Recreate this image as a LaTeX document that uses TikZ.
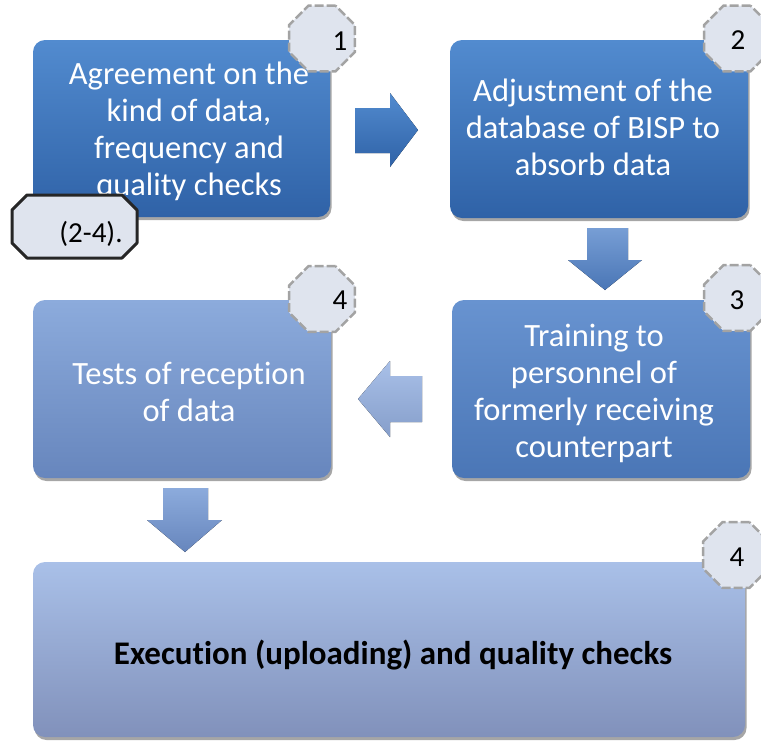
\documentclass[tikz,border=0pt]{standalone}
\usepackage{fontspec}
\setmainfont{Carlito}[Ligatures=NoCommon]
\usetikzlibrary{shapes.geometric,shadows}
\definecolor{bAtop}{HTML}{528BCF}
\definecolor{bAbot}{HTML}{2F62A7}
\definecolor{bCtop}{HTML}{6893D0}
\definecolor{bCbot}{HTML}{4A76B6}
\definecolor{bDtop}{HTML}{8CABDC}
\definecolor{bDbot}{HTML}{6786BD}
\definecolor{bEtop}{HTML}{A9C0E8}
\definecolor{bEbot}{HTML}{8191BB}
\definecolor{badgefill}{HTML}{DFE4EE}
\definecolor{badgeline}{HTML}{A3A3A3}
\begin{document}
\begin{tikzpicture}[x=1pt,y=-1pt,
  box/.style={rectangle, rounded corners=12pt, inner sep=0pt,
    drop shadow={shadow xshift=1.5pt, shadow yshift=-3pt, opacity=0.35, fill=black}},
  boxtext/.style={text=white, align=center, inner sep=0pt, font=\fontsize{32.5}{37}\selectfont},
  badge/.style={regular polygon, regular polygon sides=8, minimum size=71pt, inner sep=0pt,
    fill=badgefill, draw=badgeline, line width=2.5pt, dash pattern=on 9pt off 3pt},
  badgenum/.style={font=\fontsize{29}{34}\selectfont, text=black, inner sep=0pt},
  tagline/.style={fill=badgefill, draw=black!85, line width=3pt, line join=round},
  blockarrow/.style={draw=none}
]
\useasboundingbox (0,0) rectangle (761,740);

% boxes
\node[box, minimum width=297pt, minimum height=177pt, top color=bAtop, bottom color=bAbot] (b1) at (181.5,128.5) {};
\node[box, minimum width=298pt, minimum height=178pt, top color=bAtop, bottom color=bAbot] (b2) at (599,129) {};
\node[box, minimum width=298pt, minimum height=178pt, top color=bCtop, bottom color=bCbot] (b3) at (601,389) {};
\node[box, minimum width=298pt, minimum height=178pt, top color=bDtop, bottom color=bDbot] (b4) at (182,389) {};
\node[box, minimum width=712pt, minimum height=175pt, top color=bEtop, bottom color=bEbot] (b5) at (389,649.5) {};

% texts
\node[boxtext] (t1) at (189,131) {Agreement on the\\kind of data,\\frequency and\\quality checks};
\node[boxtext] (t2) at (593,127) {Adjustment of the\\database of BISP to\\absorb data};
\node[boxtext] (t3) at (594,393) {Training to\\personnel of\\formerly receiving\\counterpart};
\node[boxtext] (t4) at (189,392) {Tests of reception\\of data};
\node[font=\fontsize{33}{38}\selectfont\bfseries, text=black, inner sep=0pt] (t5) at (393,655) {Execution (uploading) and quality checks};

% block arrows
\fill[blockarrow, top color=bAtop, bottom color=bAbot]
  (355,108) -- (390,108) -- (390,93) -- (418,130) -- (390,167) -- (390,153) -- (355,153) -- cycle;
\fill[blockarrow, top color=bCtop!90!white, bottom color=bCbot]
  (587,228) -- (628,228) -- (628,260) -- (642,260) -- (605,290) -- (568,260) -- (587,260) -- cycle;
\fill[blockarrow, top color=bEtop, bottom color=bDbot!80!white]
  (422,376) -- (390,376) -- (390,361) -- (358,399) -- (390,437) -- (390,422) -- (422,422) -- cycle;
\fill[blockarrow, top color=bDtop, bottom color=bDbot]
  (163,488) -- (208,488) -- (208,520) -- (222,520) -- (185,552) -- (147,520) -- (163,520) -- cycle;

% badges
\node[badge] (g1) at (322,38.5) {};
\node[badgenum] (n1) at (340,41) {1};
\node[badge] (g2) at (737,38.5) {};
\node[badgenum] (n2) at (738,40) {2};
\node[badge] (g3) at (737,298) {};
\node[badgenum] (n3) at (737,300) {3};
\node[badge] (g4) at (322,299) {};
\node[badgenum] (n4) at (340,300) {4};
\node[badge] (g5) at (736,555) {};
\node[badgenum] (n5) at (737,557) {4};

% (2-4). tag
\draw[tagline] (27,195) -- (122,195) -- (137,210) -- (137,243) -- (122,258)
  -- (27,258) -- (12,243) -- (12,210) -- cycle;
\node[badgenum] (tagtext) at (91,234) {(2-4).};
\end{tikzpicture}
\end{document}
